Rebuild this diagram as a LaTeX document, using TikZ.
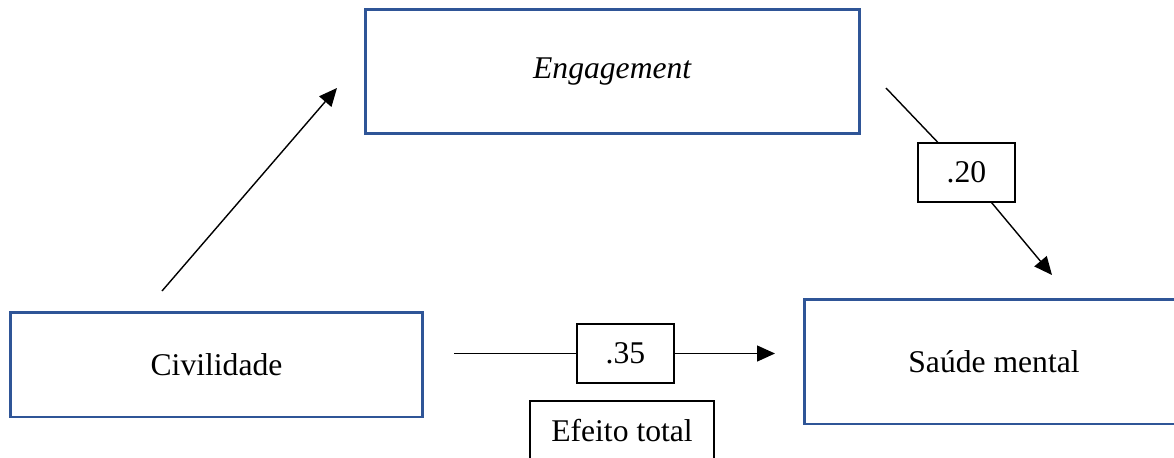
\documentclass[tikz,border=0pt]{standalone}
\usepackage{fontspec}
\setmainfont{Liberation Serif}
\usetikzlibrary{arrows.meta}
\definecolor{caixa}{HTML}{2F5597}
\tikzset{
    var/.style={draw=caixa,line width=1.7pt,inner sep=0pt,font=\fontsize{18}{22}\selectfont},
    coef/.style={draw,line width=0.8pt,inner sep=0pt,minimum width=1.94cm,minimum height=1.18cm,font=\fontsize{18}{22}\selectfont},
    seta/.style={line width=0.8pt,-{Triangle[length=0.36cm,width=0.32cm]}}
}
\begin{document}
\begin{tikzpicture}[x=0.02cm,y=-0.02cm]
        \useasboundingbox (0,0) rectangle (1174,457);
        %%%%%%%%%% Nodi %%%%%%%%%%
        \node[var,minimum width=8.26cm,minimum height=2.1cm] (civ) at (216.5,364.5) {Civilidade};
        \node[var,minimum width=9.9cm,minimum height=2.5cm] (eng) at (612.5,71.5) {\textit{Engagement}};
        \node[var,minimum width=7.6cm,minimum height=2.5cm] (sau) at (994,361.5) {Saúde mental};
        \node[coef] (c35) at (625.5,353.5) {.35};
        \node[coef,minimum width=3.68cm] (tot) at (622,430.5) {Efeito total};
        \node[coef] (c20) at (966.5,172.5) {.20};

        \coordinate (a1) at (162,291);
        \coordinate (a2) at (337,88);
        \coordinate (b1) at (886,88);
        \coordinate (b2) at (1052,275);
        \coordinate (t1) at (454,353.5);
        \coordinate (t2) at (775,353.5);

        %%%%%%%%% Frecce %%%%%%%%%
        \draw[seta] (a1) -- (a2);
        \draw[line width=0.8pt] (b1) -- (c20);
        \draw[seta] (c20) -- (b2);
        \draw[line width=0.8pt] (t1) -- (c35);
        \draw[seta] (c35) -- (t2);
    \end{tikzpicture}
\end{document}
